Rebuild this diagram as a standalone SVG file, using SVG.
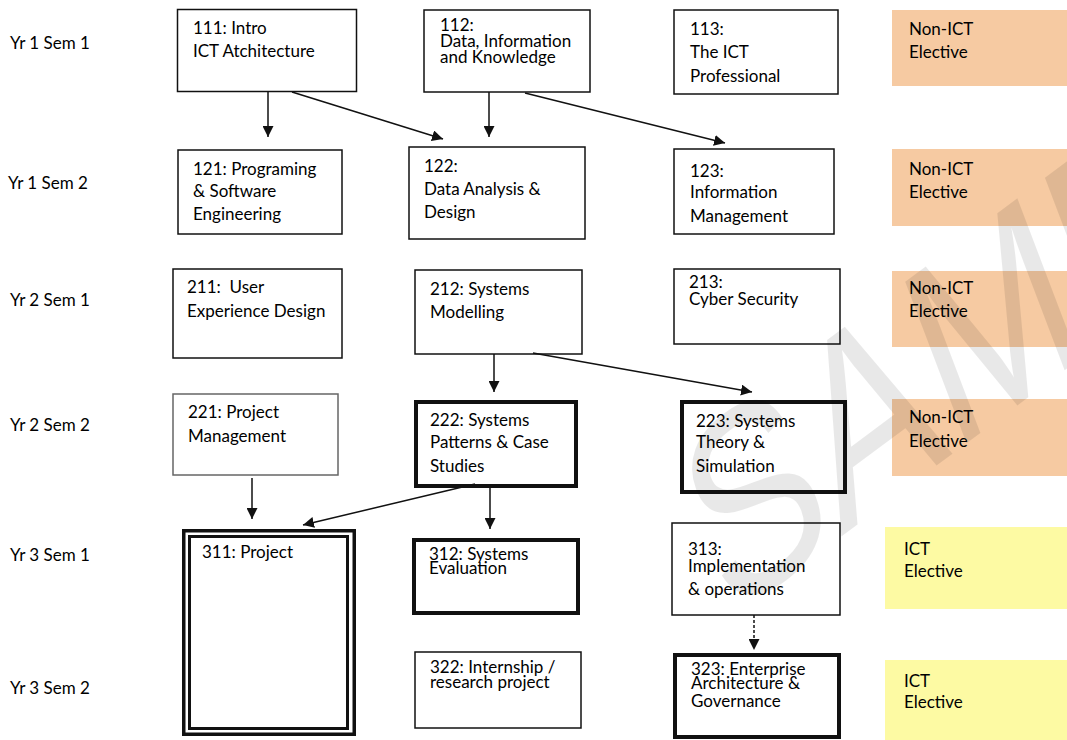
<svg xmlns="http://www.w3.org/2000/svg" width="1067" height="740" viewBox="0 0 1067 740">
<defs>
<style>
text{font-family:Lato,"Liberation Sans",sans-serif;font-size:17px;fill:#000}
.b{fill:#fff;stroke:#111;stroke-width:1.5}
.t{fill:#fff;stroke:#111;stroke-width:4}
.g{fill:#fff;stroke:#666;stroke-width:1.5}
.n{fill:#f6caa2}
.y{fill:#fdfaa3}
.c{stroke:#111;stroke-width:1.5;fill:none;marker-end:url(#ah)}
.d{stroke-dasharray:3 2}
.wm{font-family:"Liberation Sans",sans-serif;font-size:190px;fill:#000;fill-opacity:0.09}
</style>
<marker id="ah" markerUnits="userSpaceOnUse" markerWidth="11" markerHeight="11" viewBox="0 0 10 10" refX="10" refY="5" orient="auto">
<path d="M0,0 L10,5 L0,10 z" fill="#111"/>
</marker>
</defs>
<rect width="1067" height="740" fill="#fff"/>

<g id="rows">
<text x="10" y="49">Yr 1 Sem 1</text>
<text x="8" y="189">Yr 1 Sem 2</text>
<text x="10" y="306">Yr 2 Sem 1</text>
<text x="10" y="431">Yr 2 Sem 2</text>
<text x="10" y="561">Yr 3 Sem 1</text>
<text x="10" y="694">Yr 3 Sem 2</text>
</g>

<g id="n111"><rect class="b" x="177.5" y="9.5" width="179" height="82"/>
<text x="193" y="34">111: Intro</text><text x="193" y="57">ICT Atchitecture</text></g>
<g id="n112"><rect class="b" x="424" y="10" width="166" height="82"/>
<text x="440" y="31">112:</text><text x="440" y="47">Data, Information</text><text x="440" y="63">and Knowledge</text></g>
<g id="n113"><rect class="b" x="674" y="10" width="164" height="84"/>
<text x="690" y="35">113:</text><text x="690" y="58">The ICT</text><text x="690" y="82">Professional</text></g>
<g id="e1"><rect class="n" x="892" y="10" width="175" height="76"/>
<text x="909" y="35">Non-ICT</text><text x="909" y="58">Elective</text></g>

<g id="n121"><rect class="b" x="178" y="150" width="164" height="84"/>
<text x="193" y="175">121: Programing</text><text x="193" y="197">&amp; Software</text><text x="193" y="220">Engineering</text></g>
<g id="n122"><rect class="b" x="409" y="147" width="176" height="92"/>
<text x="424" y="172">122:</text><text x="424" y="195">Data Analysis &amp;</text><text x="424" y="218">Design</text></g>
<g id="n123"><rect class="b" x="674" y="149" width="160" height="85"/>
<text x="690" y="177">123:</text><text x="690" y="198">Information</text><text x="690" y="222">Management</text></g>
<g id="e2"><rect class="n" x="892" y="149" width="175" height="77"/>
<text x="909" y="175">Non-ICT</text><text x="909" y="198">Elective</text></g>

<g id="n211"><rect class="b" x="173" y="269" width="169" height="89"/>
<text x="187" y="293" xml:space="preserve">211:  User</text><text x="187" y="317">Experience Design</text></g>
<g id="n212"><rect class="b" x="415" y="270" width="167" height="84"/>
<text x="430" y="295">212: Systems</text><text x="430" y="318">Modelling</text></g>
<g id="n213"><rect class="b" x="674" y="269" width="166" height="75"/>
<text x="689" y="288">213:</text><text x="689" y="305">Cyber Security</text></g>
<g id="e3"><rect class="n" x="892" y="271" width="175" height="76"/>
<text x="909" y="294">Non-ICT</text><text x="909" y="317">Elective</text></g>

<g id="n221"><rect class="g" x="173" y="394" width="165" height="81"/>
<text x="188" y="418">221: Project</text><text x="188" y="442">Management</text></g>
<g id="n222"><rect class="t" x="416" y="402" width="160" height="84"/>
<text x="430" y="426">222: Systems</text><text x="430" y="448">Patterns &amp; Case</text><text x="430" y="472">Studies</text></g>
<g id="n223"><rect class="t" x="682" y="402" width="163" height="90"/>
<text x="696" y="427">223: Systems</text><text x="696" y="448">Theory &amp;</text><text x="696" y="472">Simulation</text></g>
<g id="e4"><rect class="n" x="892" y="399" width="175" height="77"/>
<text x="909" y="423">Non-ICT</text><text x="909" y="447">Elective</text></g>

<g id="n311"><rect class="b" x="183.75" y="530.75" width="170.5" height="203.5" style="stroke-width:3.5"/>
<rect class="b" x="189.5" y="536.5" width="158" height="192" style="stroke-width:3"/>
<text x="202" y="558">311: Project</text></g>
<g id="n312"><rect class="t" x="414" y="540" width="164" height="73"/>
<text x="429" y="560">312: Systems</text><text x="429" y="574">Evaluation</text></g>
<g id="n313"><rect class="b" x="672" y="523" width="168" height="92"/>
<text x="688" y="555">313:</text><text x="688" y="572">Implementation</text><text x="688" y="595">&amp; operations</text></g>
<g id="e5"><rect class="y" x="885" y="527" width="182" height="82"/>
<text x="904" y="555">ICT</text><text x="904" y="577">Elective</text></g>

<g id="n322"><rect class="b" x="415" y="652" width="166" height="76"/>
<text x="430" y="673">322: Internship /</text><text x="430" y="688">research project</text></g>
<g id="n323"><rect class="t" x="675" y="655" width="164" height="82"/>
<text x="691" y="675">323: Enterprise</text><text x="691" y="689">Architecture &amp;</text><text x="691" y="707">Governance</text></g>
<g id="e6"><rect class="y" x="885" y="660" width="182" height="80"/>
<text x="904" y="687">ICT</text><text x="904" y="708">Elective</text></g>

<g id="connectors">
<line class="c" x1="268" y1="92" x2="268" y2="137"/>
<line class="c" x1="292" y1="92" x2="443" y2="139"/>
<line class="c" x1="489" y1="92" x2="489" y2="137"/>
<line class="c" x1="525" y1="93" x2="725" y2="143"/>
<line class="c" x1="494" y1="354" x2="494" y2="392"/>
<line class="c" x1="533" y1="353" x2="752" y2="392"/>
<line class="c" x1="252" y1="478" x2="252" y2="519"/>
<line class="c" x1="475" y1="484" x2="303" y2="525"/>
<line class="c" x1="490" y1="488" x2="490" y2="529"/>
<line class="c d" x1="754" y1="615" x2="754" y2="650"/>
</g>

<text class="wm" transform="translate(729,620) scale(1,1.4) rotate(-28)">SAMPLE</text>
</svg>
